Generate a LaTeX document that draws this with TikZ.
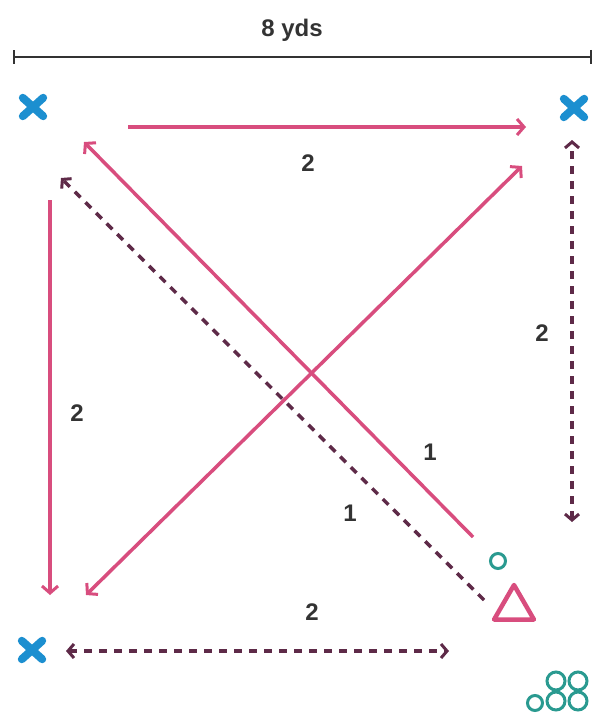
\documentclass[tikz,border=0pt]{standalone}
\usepackage{fontspec}
\setmainfont{Liberation Sans}
\usetikzlibrary{arrows.meta,shapes.geometric}
\definecolor{runpink}{HTML}{D84D7E}
\definecolor{passdark}{HTML}{5E2A48}
\definecolor{playerblue}{HTML}{1C8FD0}
\definecolor{teal}{HTML}{2A9A90}
\begin{document}
\begin{tikzpicture}[x=1pt,y=-1pt,
  runarrow/.style={draw=runpink,line width=3.5pt,-{Straight Barb[length=7pt,width=16pt,line width=3pt]}},
  runboth/.style={draw=runpink,line width=3.5pt,{Straight Barb[length=7pt,width=16pt,line width=3pt]}-{Straight Barb[length=7pt,width=16pt,line width=3pt]}},
  passarrow/.style={draw=passdark,line width=3.5pt,dash pattern=on 8pt off 7pt,-{Straight Barb[length=6pt,width=14pt,line width=3pt]}},
  passboth/.style={draw=passdark,line width=3.5pt,dash pattern=on 8pt off 7pt,{Straight Barb[length=6pt,width=14pt,line width=3pt]}-{Straight Barb[length=6pt,width=14pt,line width=3pt]}},
  numlabel/.style={font=\fontsize{24}{26}\selectfont\bfseries,text=black!80,inner sep=0pt},
  cross/.style={minimum width=20pt,minimum height=18pt,inner sep=0pt},
  bagball/.style={circle,draw=teal,line width=3pt,minimum size=18pt,inner sep=0pt},
]
\useasboundingbox (0,0) rectangle (595,717);
% dimension line
\coordinate (dimL) at (13,57);
\coordinate (dimR) at (592,57);
\draw[black!80,line width=2pt,{Bar[width=14pt]}-{Bar[width=14pt]}] (dimL) -- (dimR);
\node[numlabel] (dimtext) at (292,30) {8 yds};
% players
\node[cross] (xtl) at (33,107) {};
\node[cross] (xtr) at (574,108) {};
\node[cross] (xbl) at (32,650) {};
\foreach \p in {xtl,xtr,xbl}{
  \draw[playerblue,line width=8pt,line cap=round]
    (\p.north west) -- (\p.south east)
    (\p.south west) -- (\p.north east);
}
% endpoints
\coordinate (topS) at (128,127);
\coordinate (topE) at (526,127);
\coordinate (leftS) at (50,200);
\coordinate (leftE) at (50,595);
\coordinate (d1S) at (473,537);
\coordinate (d1E) at (84,142);
\coordinate (d2S) at (86,595);
\coordinate (d2E) at (522,166);
\coordinate (dashS) at (484,600);
\coordinate (dashE) at (61,178);
\coordinate (rvS) at (572,522);
\coordinate (rvE) at (572,140);
\coordinate (bhS) at (66,651);
\coordinate (bhE) at (449,651);
% runs
\draw[runarrow] (topS) -- (topE);
\draw[runarrow] (leftS) -- (leftE);
\draw[runarrow] (d1S) -- (d1E);
\draw[runboth] (d2S) -- (d2E);
% passes
\draw[passarrow] (dashS) -- (dashE);
\draw[passboth] (rvS) -- (rvE);
\draw[passboth] (bhS) -- (bhE);
% labels
\node[numlabel] (l1) at (308,163) {2};
\node[numlabel] (l2) at (77,413) {2};
\node[numlabel] (l3) at (542,333) {2};
\node[numlabel] (l4) at (312,612) {2};
\node[numlabel] (l5) at (430,452) {1};
\node[numlabel] (l6) at (350,513) {1};
% ball, cone, ball bag
\node[circle,draw=teal,line width=3pt,minimum size=15pt,inner sep=0pt] (ball) at (498,561) {};
\node[regular polygon,regular polygon sides=3,draw=runpink,line width=4.5pt,line join=round,
  minimum size=46pt,inner sep=0pt] (cone) at (514,608) {};
\node[bagball] (b1) at (556,681) {};
\node[bagball] (b2) at (578,681) {};
\node[bagball] (b3) at (556,701) {};
\node[bagball] (b4) at (578,701) {};
\node[bagball,minimum size=15pt] (b5) at (535,703) {};
\end{tikzpicture}
\end{document}
